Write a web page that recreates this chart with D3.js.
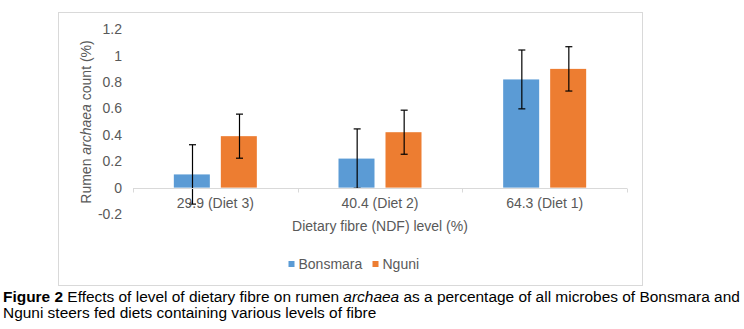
<!DOCTYPE html>
<html>
<head>
<meta charset="utf-8">
<script src="https://cdn.jsdelivr.net/npm/d3@7"></script>
<style>
  body { margin: 0; background: #fff; }
  svg { display: block; font-family: "Liberation Sans", Arial, sans-serif; }
</style>
</head>
<body>
<div id="chart"></div>
<script>
// Chart data
const categories = ["29.9 (Diet 3)", "40.4 (Diet 2)", "64.3 (Diet 1)"];
const seriesNames = ["Bonsmara", "Nguni"];
const bonsmara = [0.10, 0.22, 0.82];
const nguni = [0.39, 0.42, 0.90];
const bonsmaraErr = [0.225, 0.225, 0.223];
const nguniErr = [0.167, 0.167, 0.168];
const yTicks = [-0.2, 0, 0.2, 0.4, 0.6, 0.8, 1, 1.2];
const colors = ["#5B9BD5", "#ED7D31"];

const width = 744, height = 329;
const svg = d3.select("#chart").append("svg")
    .attr("width", width)
    .attr("height", height);

// Chart frame
svg.append("rect")
    .attr("x", 58.5).attr("y", 12.5)
    .attr("width", 584).attr("height", 273)
    .attr("fill", "#fff")
    .attr("stroke", "#D9D9D9");

const plot = {left: 133, right: 627, top: 29.3, bottom: 214};

const y = d3.scaleLinear()
    .domain([-0.2, 1.2])
    .range([plot.bottom, plot.top]);

const x0 = d3.scaleBand()
    .domain(categories)
    .range([plot.left, plot.right]);

const groupW = 83;
const x1 = d3.scaleBand()
    .domain(seriesNames)
    .range([x0.bandwidth() / 2 - groupW / 2, x0.bandwidth() / 2 + groupW / 2])
    .paddingInner(0.234);

// Y axis labels (no axis line)
svg.append("g")
    .selectAll("text")
    .data(yTicks)
    .join("text")
    .attr("x", 122)
    .attr("y", d => y(d))
    .attr("dy", "0.35em")
    .attr("text-anchor", "end")
    .attr("fill", "#595959")
    .style("font-size", "14px")
    .text(d => d3.format("")(d).replace("−", "-"));

// Bars
const rows = categories.map((c, i) => ({
    cat: c,
    values: [
        {name: seriesNames[0], v: bonsmara[i], e: bonsmaraErr[i]},
        {name: seriesNames[1], v: nguni[i], e: nguniErr[i]}
    ]
}));

const groups = svg.append("g")
    .selectAll("g")
    .data(rows)
    .join("g")
    .attr("transform", d => `translate(${x0(d.cat)},0)`);

groups.selectAll("rect")
    .data(d => d.values)
    .join("rect")
    .attr("x", d => x1(d.name))
    .attr("y", d => y(Math.max(0, d.v)))
    .attr("width", x1.bandwidth())
    .attr("height", d => Math.abs(y(d.v) - y(0)))
    .attr("fill", (d, i) => colors[i]);

// Error bars
const capW = 3.5;
const cx = d => Math.round(x1(d.name) + x1.bandwidth() / 2) + 0.5;
const eb = groups.selectAll("g.err")
    .data(d => d.values)
    .join("g")
    .attr("class", "err")
    .attr("stroke", "#000")
    .attr("stroke-width", 1.2);

eb.append("line")
    .attr("x1", cx).attr("x2", cx)
    .attr("y1", d => y(d.v + d.e))
    .attr("y2", d => y(d.v - d.e));
eb.append("line")
    .attr("x1", d => cx(d) - capW).attr("x2", d => cx(d) + capW)
    .attr("y1", d => y(d.v + d.e))
    .attr("y2", d => y(d.v + d.e));
eb.append("line")
    .attr("x1", d => cx(d) - capW).attr("x2", d => cx(d) + capW)
    .attr("y1", d => y(d.v - d.e))
    .attr("y2", d => y(d.v - d.e));

// X axis at zero
const xAxis = svg.append("g")
    .attr("transform", `translate(0,${Math.round(y(0)) + 0.5})`);
xAxis.append("line")
    .attr("x1", plot.left).attr("x2", plot.right)
    .attr("stroke", "#D9D9D9");
xAxis.selectAll("line.tick")
    .data(categories.map(c => x0(c)).concat([plot.right]))
    .join("line")
    .attr("class", "tick")
    .attr("x1", d => Math.round(d) + 0.5).attr("x2", d => Math.round(d) + 0.5)
    .attr("y1", 0).attr("y2", 4)
    .attr("stroke", "#D9D9D9");

// Category labels
svg.append("g")
    .selectAll("text")
    .data(categories)
    .join("text")
    .attr("x", d => x0(d) + x0.bandwidth() / 2)
    .attr("y", 208)
    .attr("text-anchor", "middle")
    .attr("fill", "#595959")
    .style("font-size", "14px")
    .text(d => d);

// Axis titles
svg.append("text")
    .attr("x", (plot.left + plot.right) / 2)
    .attr("y", 231)
    .attr("text-anchor", "middle")
    .attr("fill", "#595959")
    .style("font-size", "14px")
    .text("Dietary fibre (NDF) level (%)");

const yTitle = svg.append("text")
    .attr("transform", "translate(91,122) rotate(-90)")
    .attr("text-anchor", "middle")
    .attr("fill", "#595959")
    .style("font-size", "14px");
yTitle.append("tspan").text("Rumen ");
yTitle.append("tspan").style("font-style", "italic").text("archaea");
yTitle.append("tspan").text(" count (%)");

// Legend
const legend = svg.append("g")
    .selectAll("g")
    .data(seriesNames)
    .join("g")
    .attr("transform", (d, i) => `translate(${[288.5, 372.5][i]},264)`);
legend.append("rect")
    .attr("x", 0).attr("y", -3)
    .attr("width", 6).attr("height", 6)
    .attr("fill", (d, i) => colors[i]);
legend.append("text")
    .attr("x", 10)
    .attr("dy", "0.35em")
    .attr("fill", "#595959")
    .style("font-size", "14px")
    .text(d => d);

// Caption
const cap1 = svg.append("text")
    .attr("x", 3).attr("y", 302)
    .attr("fill", "#000")
    .style("font-size", "15.45px");
cap1.append("tspan").style("font-weight", "bold").text("Figure 2");
cap1.append("tspan").text(" Effects of level of dietary fibre on rumen ");
cap1.append("tspan").style("font-style", "italic").text("archaea");
cap1.append("tspan").text(" as a percentage of all microbes of Bonsmara and");

svg.append("text")
    .attr("x", 3).attr("y", 318)
    .attr("fill", "#000")
    .style("font-size", "15.45px")
    .text("Nguni steers fed diets containing various levels of fibre");
</script>
</body>
</html>
